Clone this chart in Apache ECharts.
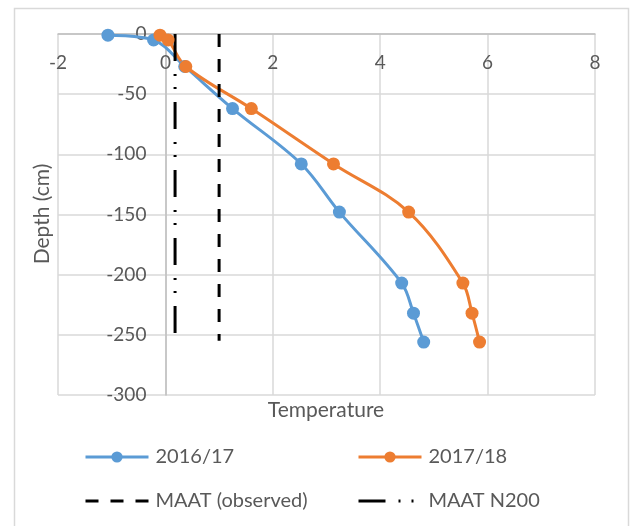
<!DOCTYPE html>
<html>
<head>
<meta charset="utf-8">
<script src="https://cdn.jsdelivr.net/npm/echarts@6/dist/echarts.min.js"></script>
<style>
html,body{margin:0;padding:0;background:#fff;}
#c{width:631px;height:526px;}
</style>
</head>
<body>
<div id="c"></div>
<script>
// Data
const temp1617 = [-1.07, -0.22, 0.36, 1.25, 2.53, 3.24, 4.40, 4.62, 4.81];
const depth1617 = [-1, -5, -27, -62, -108, -148, -207, -232, -256];
const temp1718 = [-0.10, 0.05, 0.38, 1.60, 3.13, 4.53, 5.54, 5.71, 5.85];
const depth1718 = [-1, -5, -27, -62, -108, -148, -207, -232, -256];
const maatObsTemp = [1.0, 1.0];
const maatObsDepth = [0, -255];
const maatN200Temp = [0.18, 0.18];
const maatN200Depth = [0, -256];
const seriesNames = ['2016/17', '2017/18', 'MAAT (observed)', 'MAAT N200'];
const xMin = -2, xMax = 8, xStep = 2;
const yMin = -300, yMax = 0, yStep = 50;

const zip = (xs, ys) => xs.map((x, i) => [x, ys[i]]);
const FONT = 'Lato';
const TXT = '#595959';
const FS = 19;

const gridL = 58, gridR = 36, W = 631;
const plotW = W - gridL - gridR;
const yAxisOffset = -plotW * (0 - xMin) / (xMax - xMin);

const chart = echarts.init(document.getElementById('c'), null, {renderer: 'canvas'});
const legendBase = {
  itemWidth: 63, itemHeight: 14, itemGap: 0, padding: 0,
  lineStyle: {width: 3},
  textStyle: {fontFamily: FONT, fontSize: 20, color: TXT, padding: [0, 0, 0, 2]},
  selectedMode: false
};
const hiddenSym = {itemStyle: {color: 'rgba(0,0,0,0)', borderWidth: 0}};
chart.setOption({
  animation: false,
  backgroundColor: '#fff',
  graphic: [
    {type: 'rect', shape: {x: 14.5, y: 8.5, width: 614, height: 540}, style: {fill: 'none', stroke: '#d9d9d9', lineWidth: 1.5}, silent: true},
    {type: 'text', x: 42, y: 214, rotation: Math.PI / 2,
     style: {text: 'Depth (cm)', fontFamily: FONT, fontSize: 21, fill: TXT, align: 'center', verticalAlign: 'middle'}, silent: true}
  ],
  title: {
    text: 'Temperature', left: 326, top: 400, textAlign: 'center', padding: 0,
    textStyle: {fontFamily: FONT, fontSize: 21, fontWeight: 'normal', color: TXT}
  },
  legend: [
    Object.assign({}, legendBase, {data: [seriesNames[0]], left: 84, top: 447}),
    Object.assign({}, legendBase, {data: [seriesNames[1]], left: 357, top: 447}),
    Object.assign({}, legendBase, hiddenSym, {data: [seriesNames[2]], left: 84, top: 491}),
    Object.assign({}, legendBase, hiddenSym, {data: [seriesNames[3]], left: 357, top: 491})
  ],
  grid: {left: gridL, right: gridR, top: 34, bottom: 131},
  xAxis: {
    type: 'value', min: xMin, max: xMax, interval: xStep, position: 'top',
    axisLine: {show: true, onZero: false, lineStyle: {color: '#bfbfbf', width: 1.5}},
    axisTick: {show: false},
    axisLabel: {inside: true, margin: 19, fontFamily: FONT, fontSize: FS, color: TXT},
    splitLine: {show: true, lineStyle: {color: '#d9d9d9', width: 1.5}}
  },
  yAxis: {
    type: 'value', min: yMin, max: yMax, interval: yStep, position: 'left', offset: yAxisOffset,
    axisLine: {show: true, onZero: false, lineStyle: {color: '#bfbfbf', width: 1.5}},
    axisTick: {show: false},
    axisLabel: {margin: 19, fontFamily: FONT, fontSize: FS, color: TXT},
    splitLine: {show: true, lineStyle: {color: '#d9d9d9', width: 1.5}}
  },
  series: [
    {name: seriesNames[0], type: 'line', data: zip(temp1617, depth1617), smooth: 0.35,
     symbol: 'circle', symbolSize: 13, color: '#5B9BD5',
     lineStyle: {width: 3, color: '#5B9BD5'}, itemStyle: {color: '#5B9BD5'}},
    {name: seriesNames[1], type: 'line', data: zip(temp1718, depth1718), smooth: 0.35,
     symbol: 'circle', symbolSize: 13, color: '#ED7D31',
     lineStyle: {width: 3, color: '#ED7D31'}, itemStyle: {color: '#ED7D31'}},
    {name: seriesNames[2], type: 'line', data: zip(maatObsTemp, maatObsDepth),
     symbol: 'none', color: '#000',
     lineStyle: {width: 3, color: '#000', type: [13, 12], cap: 'butt'}},
    {name: seriesNames[3], type: 'line', data: zip(maatN200Temp, maatN200Depth),
     symbol: 'none', color: '#000',
     lineStyle: {width: 3, color: '#000', type: [27, 13, 2, 11, 2, 13], cap: 'butt'}}
  ]
});
</script>
</body>
</html>
